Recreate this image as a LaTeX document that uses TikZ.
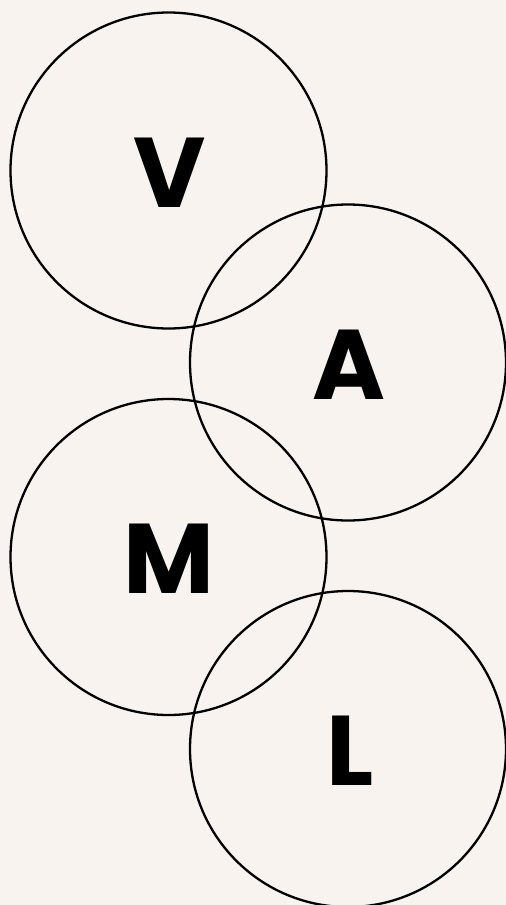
\documentclass[tikz,border=0pt]{standalone}
\usepackage{fontspec}
\setmainfont{Poppins}[BoldFont={* Bold}]
\definecolor{bg}{HTML}{F8F3EF}
\begin{document}
\begin{tikzpicture}[x=1pt,y=-1pt,
  ring/.style={draw=black,line width=2.3pt},
  letter/.style={anchor=base,inner sep=0pt,font=\fontsize{99}{99}\selectfont\bfseries}]
\fill[bg] (0,0) rectangle (506,905);
\useasboundingbox (0,0) rectangle (506,905);
\begin{scope}
\clip (0,0) rectangle (506,905);
\node[ring,circle,minimum size=316pt,inner sep=0pt] (cv) at (168.5,170.5) {};
\node[ring,circle,minimum size=316pt,inner sep=0pt] (ca) at (348,362.5) {};
\node[ring,circle,minimum size=316pt,inner sep=0pt] (cm) at (168.5,557) {};
\node[ring,circle,minimum size=316pt,inner sep=0pt] (cl) at (348,749) {};
\end{scope}
\node[letter] (v) at (169.5,207) {V};
\node[letter] (a) at (348.5,399) {A};
\node[letter] (m) at (168.5,593) {M};
\node[letter] (l) at (350,785) {L};
\end{tikzpicture}
\end{document}
